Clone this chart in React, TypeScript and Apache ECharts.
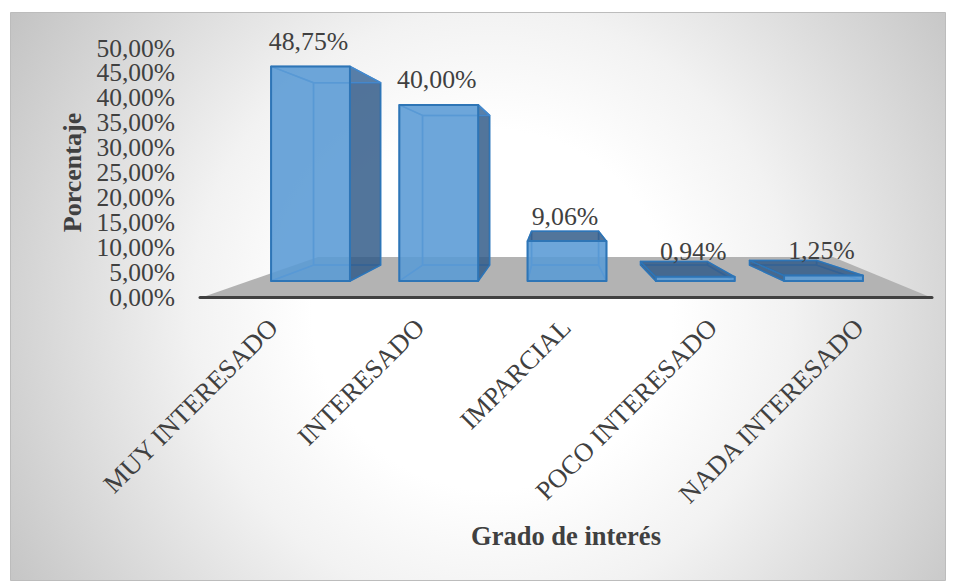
import React, { useEffect, useRef } from "react";
import * as echarts from "echarts";

const categories = ["MUY INTERESADO", "INTERESADO", "IMPARCIAL", "POCO INTERESADO", "NADA INTERESADO"];
const values = [48.75, 40.0, 9.06, 0.94, 1.25];
const yMin = 0;
const yMax = 50;
// tick labels sit on two axes sharing one scale, as ECharts would otherwise drop tightly packed neighbours of the end labels
const yTicksA = [0, 10, 20, 30, 40, 50];
const yTicksB = [5, 15, 25, 35, 45];

const FONT = '"Liberation Serif", "Times New Roman", serif';
const TXT = "#404040";
const fmt = (v: number) => v.toFixed(2).replace(".", ",") + "%";

// projection from the axis plane to the front plane of the bars
const frontX = (x: number) => 71.2 + 0.876 * x;
const frontY = (y: number) => 281 - (297 - y) * 0.884;
// projection from the front plane to the back plane
const VX = 554;
const VY = 175;
const K = 0.85;
const backX = (x: number) => VX + K * (x - VX);
const backY = (y: number) => VY + K * (y - VY);

const LIGHT = "rgba(91,155,213,0.86)";
const DARK = "rgba(48,88,132,0.8)";
const EDGE = "#2e75b6";
const INNER = "rgba(70,140,210,0.85)";

function renderBar(_: any, api: any) {
  const idx = api.value(0);
  const val = api.value(1);
  const top = api.coord([idx, val]);
  const base = api.coord([idx, 0]);
  const half = api.size([1, 0])[0] * 0.3075;
  const xl = frontX(top[0] - half);
  const xr = frontX(top[0] + half);
  const yt = frontY(top[1]);
  const yb = frontY(base[1]);
  const bl = backX(xl);
  const br = backX(xr);
  const bt = backY(yt);
  const bb = backY(yb);

  const face = (points: number[][], outward: boolean, stroke = INNER, lw = 1.5) => ({
    type: "polygon",
    shape: { points },
    style: { fill: outward ? DARK : "rgba(91,155,213,0.22)", stroke, lineWidth: lw, lineJoin: "round" },
  });

  const children: any[] = [
    face([[bl, bt], [br, bt], [br, bb], [bl, bb]], false),
    face([[xl, yb], [xr, yb], [br, bb], [bl, bb]], false),
    face([[xl, yt], [bl, bt], [bl, bb], [xl, yb]], bl < xl, bl < xl ? EDGE : INNER),
    face([[xr, yt], [br, bt], [br, bb], [xr, yb]], br > xr, br > xr ? EDGE : INNER),
    face([[xl, yt], [xr, yt], [br, bt], [bl, bt]], bt < yt, bt < yt ? EDGE : INNER),
    {
      type: "polygon",
      shape: { points: [[xl, yt], [xr, yt], [xr, yb], [xl, yb]] },
      style: { fill: LIGHT, stroke: EDGE, lineWidth: 2, lineJoin: "round" },
    },
    {
      type: "text",
      style: {
        text: fmt(val),
        x: (xl + xr) / 2 - 2,
        y: yt - 25,
        align: "center",
        verticalAlign: "middle",
        font: `25.8px ${FONT}`,
        fill: TXT,
      },
    },
  ];
  return { type: "group", children };
}

const valueAxis = (ticks: number[]) => ({
  type: "value",
  position: "left",
  min: yMin,
  max: yMax,
  splitLine: { show: false },
  axisLine: { show: false },
  axisTick: { show: false },
  axisLabel: {
    margin: 25,
    color: TXT,
    fontFamily: FONT,
    fontSize: 25.5,
    customValues: ticks,
    showMinLabel: true,
    showMaxLabel: true,
    formatter: (v: number) => fmt(v),
  },
});

export default function App() {
  const ref = useRef<HTMLDivElement>(null);
  useEffect(() => {
    const chart = echarts.init(ref.current!, undefined, { renderer: "svg" });
    chart.setOption({
      animation: false,
      backgroundColor: "#ffffff",
      graphic: [
        {
          type: "rect",
          z: -1,
          shape: { x: 10.5, y: 12.5, width: 935, height: 568 },
          style: {
            fill: {
              type: "radial",
              global: true,
              x: 492,
              y: 310,
              r: 600,
              colorStops: [
                { offset: 0, color: "#ffffff" },
                { offset: 0.3, color: "#ffffff" },
                { offset: 0.5, color: "#f2f2f2" },
                { offset: 1, color: "#bdbdbd" },
              ],
            },
            stroke: "#bcbcbc",
            lineWidth: 1,
          },
        },
        {
          type: "polygon",
          z: -1,
          shape: { points: [[203, 297], [318, 257], [833, 257], [930, 297]] },
          style: { fill: "#b3b3b3" },
        },
      ],
      grid: { left: 200, right: 957 - 932, top: 48, bottom: 583 - 297, containLabel: false },
      xAxis: {
        type: "category",
        data: categories,
        z: 3,
        axisTick: { show: false },
        axisLine: { lineStyle: { color: "#404040", width: 3, cap: "round" } },
        axisLabel: { rotate: 45, interval: 0, margin: 26, color: TXT, fontFamily: FONT, fontSize: 26.5 },
        name: "Grado de interés",
        nameLocation: "middle",
        nameGap: 225,
        nameTextStyle: { color: TXT, fontFamily: FONT, fontSize: 26.5, fontWeight: "bold" },
      },
      yAxis: [
        {
          ...valueAxis(yTicksA),
          name: "Porcentaje",
          nameLocation: "middle",
          nameRotate: 90,
          nameGap: 115,
          nameTextStyle: { color: TXT, fontFamily: FONT, fontSize: 26, fontWeight: "bold" },
        },
        valueAxis(yTicksB),
      ],
      series: [
        {
          type: "custom",
          z: 5,
          clip: false,
          renderItem: renderBar,
          encode: { x: 0, y: 1 },
          data: values.map((v, i) => [i, v]),
        },
      ],
    });
    return () => chart.dispose();
  }, []);
  return <div ref={ref} style={{ position: "absolute", left: 0, top: 0, width: 957, height: 583 }} />;
}
